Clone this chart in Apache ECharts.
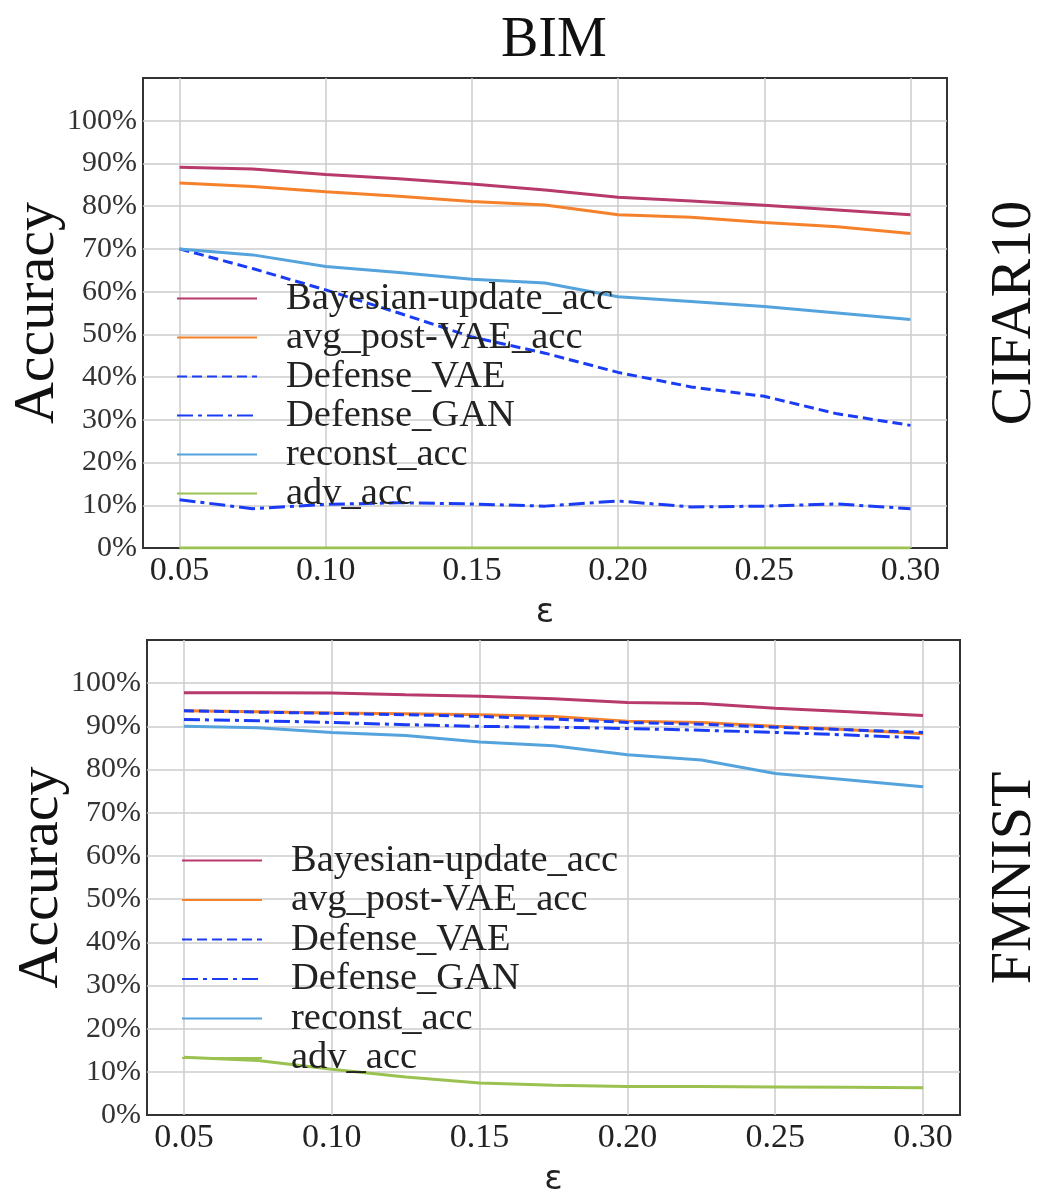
<!DOCTYPE html>
<html>
<head>
<meta charset="utf-8">
<script src="https://cdn.jsdelivr.net/npm/echarts@6/dist/echarts.min.js"></script>
<style>
  html, body { margin: 0; padding: 0; background: #fff; }
  #chart { width: 1043px; height: 1194px; }
</style>
</head>
<body>
<div id="chart"></div>
<script>
// 横轴 epsilon
const eps = [0.05, 0.075, 0.1, 0.125, 0.15, 0.175, 0.2, 0.225, 0.25, 0.275, 0.3]
const xTicks = [0.05, 0.10, 0.15, 0.20, 0.25, 0.30]
const yTicks = [0, 10, 20, 30, 40, 50, 60, 70, 80, 90, 100]
const seriesNames = ['Bayesian-update_acc', 'avg_post-VAE_acc', 'Defense_VAE', 'Defense_GAN', 'reconst_acc', 'adv_acc']

// CIFAR10 (%)
const cifarBayes = [89.1, 88.7, 87.4, 86.4, 85.2, 83.8, 82.1, 81.2, 80.2, 79.1, 78.0]
const cifarAvgVae = [85.4, 84.6, 83.4, 82.3, 81.1, 80.3, 78.0, 77.4, 76.2, 75.2, 73.6]
const cifarDefVae = [70.0, 65.4, 60.4, 55.0, 49.4, 45.6, 41.1, 37.7, 35.5, 31.4, 28.7]
const cifarDefGan = [11.3, 9.2, 10.2, 10.6, 10.3, 9.8, 11.0, 9.6, 9.8, 10.3, 9.2]
const cifarReconst = [70.0, 68.6, 65.9, 64.5, 62.9, 62.0, 58.8, 57.7, 56.5, 55.0, 53.5]
const cifarAdv = [0, 0, 0, 0, 0, 0, 0, 0, 0, 0, 0]

// FMNIST (%)
const fmBayes = [97.8, 97.8, 97.7, 97.3, 97.0, 96.4, 95.5, 95.3, 94.2, 93.4, 92.5]
const fmAvgVae = [93.6, 93.4, 93.1, 92.9, 92.7, 92.3, 91.2, 90.9, 90.0, 89.2, 88.3]
const fmDefVae = [93.6, 93.3, 93.0, 92.7, 92.3, 91.7, 90.9, 90.5, 89.8, 89.2, 88.6]
const fmDefGan = [91.6, 91.3, 90.9, 90.4, 90.0, 89.8, 89.5, 89.1, 88.6, 88.0, 87.3]
const fmReconst = [90.0, 89.7, 88.6, 87.9, 86.4, 85.5, 83.4, 82.2, 79.1, 77.6, 76.0]
const fmAdv = [13.4, 12.6, 10.6, 8.8, 7.4, 6.9, 6.6, 6.6, 6.5, 6.4, 6.3]

const colors = ['#b8396b', '#f5812a', '#1a3cf5', '#1a3cf5', '#55a3dc', '#9bc151']
const dashes = ['solid', 'solid', [10, 5], [16, 5, 4, 5], 'solid', 'solid']
const serif = 'Liberation Serif'

const chart = echarts.init(document.getElementById('chart'))

function makeSeries (dataList, idx) {
  return dataList.map((vals, i) => ({
    name: seriesNames[i],
    type: 'line',
    xAxisIndex: idx,
    yAxisIndex: idx,
    symbol: 'none',
    animation: false,
    color: colors[i],
    lineStyle: { width: 3, color: colors[i], type: dashes[i] },
    data: eps.map((e, k) => [e, vals[k]])
  }))
}

function xAxisOf (idx) {
  return {
    type: 'value',
    gridIndex: idx,
    min: 0.0375,
    max: 0.3125,
    axisLine: { show: false },
    axisTick: { show: false, customValues: xTicks },
    axisLabel: {
      customValues: xTicks,
      formatter: v => v.toFixed(2),
      fontFamily: serif,
      fontSize: 34,
      color: '#222',
      margin: 6
    },
    splitLine: { show: true, lineStyle: { color: '#cccccc', width: 1.5 } },
    name: 'ε',
    nameLocation: 'middle',
    nameGap: 48,
    nameTextStyle: { fontFamily: 'DejaVu Sans', fontSize: 34, color: '#222' }
  }
}

function yAxisOf (idx) {
  return {
    type: 'value',
    gridIndex: idx,
    min: 0,
    max: 110,
    axisLine: { show: false },
    // 0 和 110 处不画网格线, 让边框保持深色
    axisTick: { show: false, customValues: yTicks.slice(1) },
    axisLabel: {
      customValues: yTicks,
      formatter: v => v + '%',
      fontFamily: serif,
      fontSize: 30,
      color: '#333',
      margin: 6
    },
    splitLine: { show: true, lineStyle: { color: '#cccccc', width: 1.5 } },
    name: 'Accuracy',
    nameLocation: 'middle',
    nameRotate: 90,
    nameGap: 76,
    nameMoveOverlap: false,
    nameTextStyle: { fontFamily: serif, fontSize: 58, color: '#111' }
  }
}

function legendOf (left, top, gap) {
  return {
    data: seriesNames.map(n => ({ name: n })),
    orient: 'vertical',
    left: left,
    top: top,
    padding: 0,
    itemWidth: 80,
    itemHeight: 14,
    itemGap: gap,
    selectedMode: false,
    itemStyle: { color: 'transparent', borderWidth: 0, opacity: 0 },
    textStyle: { fontFamily: serif, fontSize: 38.5, lineHeight: 36, color: '#222', padding: [0, 0, 0, 24] }
  }
}

const option = {
  backgroundColor: '#fff',
  animation: false,
  title: {
    text: 'BIM',
    left: 496,
    top: 8,
    textStyle: { fontFamily: serif, fontSize: 56, fontWeight: 'normal', color: '#111' }
  },
  grid: [
    { left: 143, top: 78, width: 804, height: 470, outerBoundsMode: 'none', containLabel: false, show: true, borderColor: '#333', borderWidth: 2, backgroundColor: '#fff' },
    { left: 147, top: 640, width: 813, height: 475, outerBoundsMode: 'none', containLabel: false, show: true, borderColor: '#333', borderWidth: 2, backgroundColor: '#fff' }
  ],
  legend: [legendOf(176, 279, 0), legendOf(181, 841, 0.5)],
  xAxis: [xAxisOf(0), xAxisOf(1)],
  yAxis: [yAxisOf(0), yAxisOf(1)],
  graphic: [
    { type: 'text', x: 1015, y: 313, rotation: Math.PI / 2, style: { text: 'CIFAR10', font: '58px "Liberation Serif"', fill: '#111', align: 'center', verticalAlign: 'middle' } },
    { type: 'text', x: 1015, y: 878, rotation: Math.PI / 2, style: { text: 'FMNIST', font: '58px "Liberation Serif"', fill: '#111', align: 'center', verticalAlign: 'middle' } }
  ],
  series: [
    ...makeSeries([cifarBayes, cifarAvgVae, cifarDefVae, cifarDefGan, cifarReconst, cifarAdv], 0),
    ...makeSeries([fmBayes, fmAvgVae, fmDefVae, fmDefGan, fmReconst, fmAdv], 1)
  ]
}

chart.setOption(option)
</script>
</body>
</html>
